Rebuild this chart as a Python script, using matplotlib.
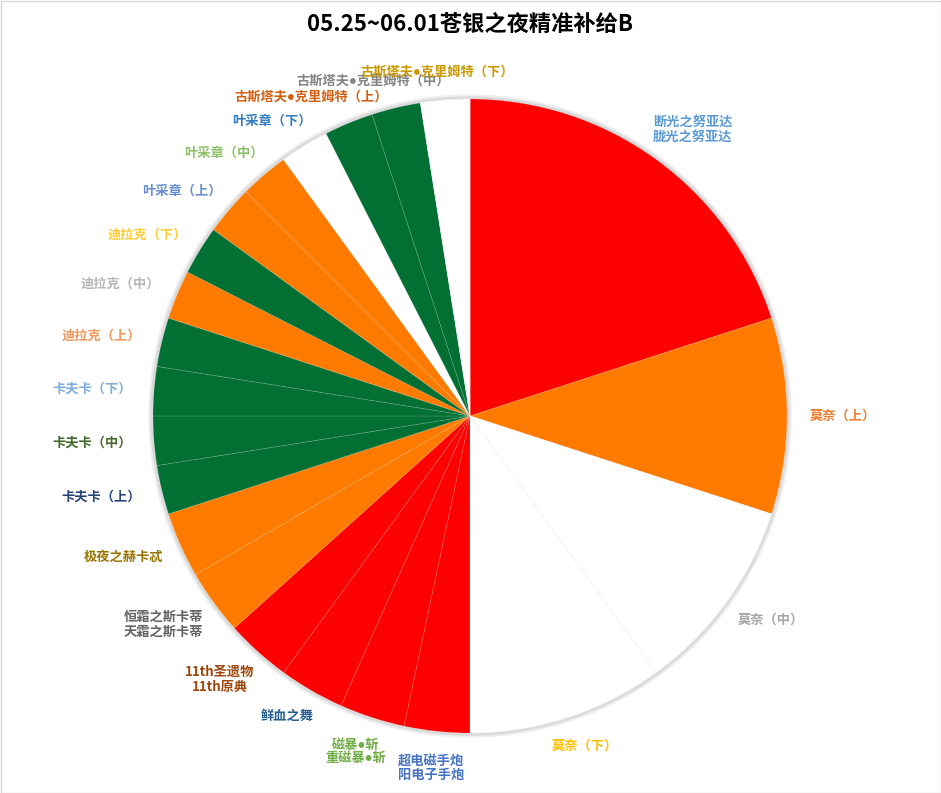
import matplotlib
matplotlib.use("Agg")
import matplotlib.pyplot as plt
import numpy as np
from matplotlib.patches import Circle, Rectangle

plt.rcParams['font.family'] = ['Noto Sans CJK SC', 'DejaVu Sans']

title = "05.25~06.01苍银之夜精准补给B"

# slices, clockwise from 12 o'clock
labels = ["断光之努亚达\n胧光之努亚达", "莫奈（上）", "莫奈（中）", "莫奈（下）",
          "超电磁手炮\n阳电子手炮", "磁暴•斩\n重磁暴•斩", "鲜血之舞",
          "11th圣遗物\n11th原典", "恒霜之斯卡蒂\n天霜之斯卡蒂", "极夜之赫卡忒",
          "卡夫卡（上）", "卡夫卡（中）", "卡夫卡（下）",
          "迪拉克（上）", "迪拉克（中）", "迪拉克（下）",
          "叶采章（上）", "叶采章（中）", "叶采章（下）",
          "古斯塔夫•克里姆特（上）", "古斯塔夫•克里姆特（中）", "古斯塔夫•克里姆特（下）"]
values = [20, 10, 10, 10,
          3.333, 3.333, 3.333, 3.333, 3.333, 3.333,
          2.5, 2.5, 2.5, 2.5, 2.5, 2.5, 2.5, 2.5, 2.5, 2.5, 2.5, 2.5]

RED, ORG, WHT, GRN = "#FF0000", "#FF7B00", "#FFFFFF", "#027033"
slice_colors = [RED, ORG, WHT, WHT,
                RED, RED, RED, RED, ORG, ORG,
                GRN, GRN, GRN, GRN, ORG, GRN, ORG, ORG, WHT, GRN, GRN, WHT]
label_colors = ["#5B9BD5", "#ED7D31", "#A5A5A5", "#FFC000", "#4472C4", "#70AD47",
                "#255E91", "#9E480E", "#636363", "#997300", "#264478", "#43682B",
                "#7CAFDD", "#F1975A", "#B7B7B7", "#FFCD33", "#698ED0", "#8CC168",
                "#327DC2", "#D26012", "#848484", "#CC9A00"]

W, H = 941, 793
fig = plt.figure(figsize=(W / 100, H / 100), dpi=100)
ax = fig.add_axes([0, 0, 1, 1])

cx, cy, r = 470, H - 416, 317

# soft shadow round the pie
ax.add_patch(Circle((cx, cy), r + 4, color="#EEEEEE", zorder=0))
ax.add_patch(Circle((cx, cy), r + 2, color="#DADADA", zorder=0))

wedges, _ = ax.pie(values, colors=slice_colors, startangle=90, counterclock=False,
                   center=(cx, cy), radius=r, frame=True,
                   wedgeprops=dict(edgecolor=(1, 1, 1, 0.18), linewidth=0.5))
for w, c in zip(wedges, slice_colors):
    w.set_zorder(1)
    if c == WHT:
        w.set_edgecolor("#F3F3F3")

ax.set_xlim(0, W)
ax.set_ylim(0, H)
ax.set_aspect("auto")
ax.axis("off")

# chart border
fig.patches.append(Rectangle((0.5, 0.5), W - 1, H - 1, transform=None,
                             fill=False, edgecolor="#D9D9D9", linewidth=1))

ax.text(cx, H - 24, title, ha="center", va="center", fontsize=16,
        fontweight="bold", color="black")

# outside-end labels
fig.canvas.draw()
renderer = fig.canvas.get_renderer()
total = sum(values)
start = 90.0
R = 1.07 * r
for lab, v, col in zip(labels, values, label_colors):
    span = 360.0 * v / total
    mid = np.radians(start - span / 2)
    start -= span
    ax_, ay_ = cx + R * np.cos(mid), cy + R * np.sin(mid)
    # a Latin font first keeps the "•" narrow
    fam = ['Lato', 'Noto Sans CJK SC'] if "•" in lab else ['Noto Sans CJK SC', 'DejaVu Sans']
    t = ax.text(ax_, ay_, lab, ha="center", va="center", fontsize=9.5,
                fontweight="bold", color=col, multialignment="center",
                linespacing=1.1, family=fam)
    bb = t.get_window_extent(renderer)
    t.set_position((ax_ + np.cos(mid) * bb.width / 2,
                    ay_ + np.sin(mid) * bb.height / 2))

fig.savefig("out.png", dpi=100)
